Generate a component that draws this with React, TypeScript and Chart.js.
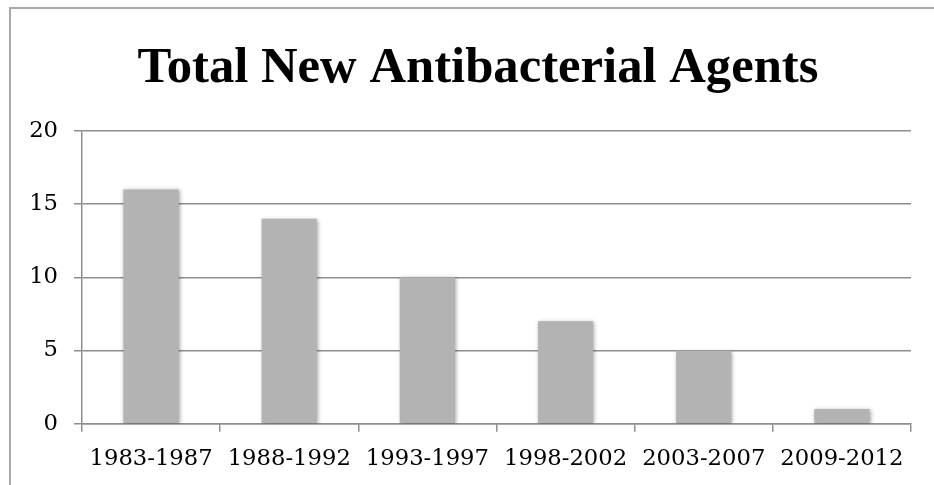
import React, { useEffect, useRef } from "react";
import { Chart, registerables } from "chart.js";

Chart.register(...registerables);

const categories = ["1983-1987", "1988-1992", "1993-1997", "1998-2002", "2003-2007", "2009-2012"];
const agentCounts = [16, 14, 10, 7, 5, 1];
const yTicks = [0, 5, 10, 15, 20];
const titleText = "Total New Antibacterial Agents";

const shadowPlugin = {
  id: "barShadow",
  beforeDatasetsDraw(chart: any) {
    const ctx = chart.ctx;
    ctx.save();
    ctx.shadowColor = "rgba(0,0,0,0.35)";
    ctx.shadowBlur = 4;
    ctx.shadowOffsetX = 1;
    ctx.shadowOffsetY = 1;
  },
  afterDatasetsDraw(chart: any) {
    chart.ctx.restore();
  },
};

// Centre the title over the whole framed box rather than the canvas.
const titleSpanPlugin = {
  id: "titleSpan",
  afterLayout(chart: any) {
    const t = chart.titleBlock;
    if (t) {
      t.left = 45;
      t.right = 911;
      t.width = t.right - t.left;
    }
  },
};

const CANVAS_W = 956;
const CANVAS_H = 492;

export default function App() {
  const ref = useRef<HTMLCanvasElement | null>(null);

  useEffect(() => {
    if (!ref.current) return;
    const gridColor = "#8e8e8e";
    const chart = new Chart(ref.current, {
      type: "bar",
      data: {
        labels: categories,
        datasets: [
          {
            data: agentCounts,
            backgroundColor: "#b3b3b3",
            borderWidth: 0,
            barPercentage: 0.4,
            categoryPercentage: 1,
          },
        ],
      },
      options: {
        animation: false,
        responsive: false,
        maintainAspectRatio: false,
        devicePixelRatio: 1,
        layout: { padding: { left: 0, right: 45, top: 0, bottom: 5 } },
        plugins: {
          legend: { display: false },
          tooltip: { enabled: false },
          title: {
            display: true,
            text: titleText,
            color: "#000",
            font: { family: "Liberation Serif", size: 50.7, weight: "bold" },
            padding: { top: 38, bottom: 32 },
          },
        },
        scales: {
          x: {
            grid: {
              display: true,
              drawOnChartArea: false,
              drawTicks: true,
              tickLength: 8,
              color: gridColor,
              lineWidth: 1.5,
              offset: true,
            },
            border: { display: true, color: gridColor, width: 1.5 },
            ticks: {
              color: "#000",
              font: { family: "DejaVu Serif", size: 22.7 },
              padding: 14,
              maxRotation: 0,
              autoSkip: false,
            },
          },
          y: {
            min: 0,
            max: 20,
            afterFit(scale: any) {
              scale.width = 82;
            },
            afterBuildTicks(scale: any) {
              scale.ticks = yTicks.map((v) => ({ value: v }));
            },
            grid: {
              color: gridColor,
              lineWidth: 1.5,
              tickLength: 8,
            },
            border: { display: true, color: gridColor, width: 1.5 },
            ticks: {
              color: "#000",
              font: { family: "DejaVu Serif", size: 22.7 },
              padding: 16,
            },
          },
        },
      },
      plugins: [shadowPlugin, titleSpanPlugin],
    });
    return () => chart.destroy();
  }, []);

  return (
    <div
      style={{
        position: "fixed",
        left: 0,
        top: 0,
        width: 934,
        height: 485,
        overflow: "hidden",
        background: "#fff",
      }}
    >
      <div
        style={{
          position: "absolute",
          left: 9,
          top: 7,
          width: 1100,
          height: 700,
          borderLeft: "2px solid #a9a9a9",
          borderTop: "2px solid #a9a9a9",
        }}
      />
      <canvas
        ref={ref}
        width={CANVAS_W}
        height={CANVAS_H}
        style={{ position: "absolute", left: 0, top: 0, width: CANVAS_W, height: CANVAS_H }}
      />
    </div>
  );
}
